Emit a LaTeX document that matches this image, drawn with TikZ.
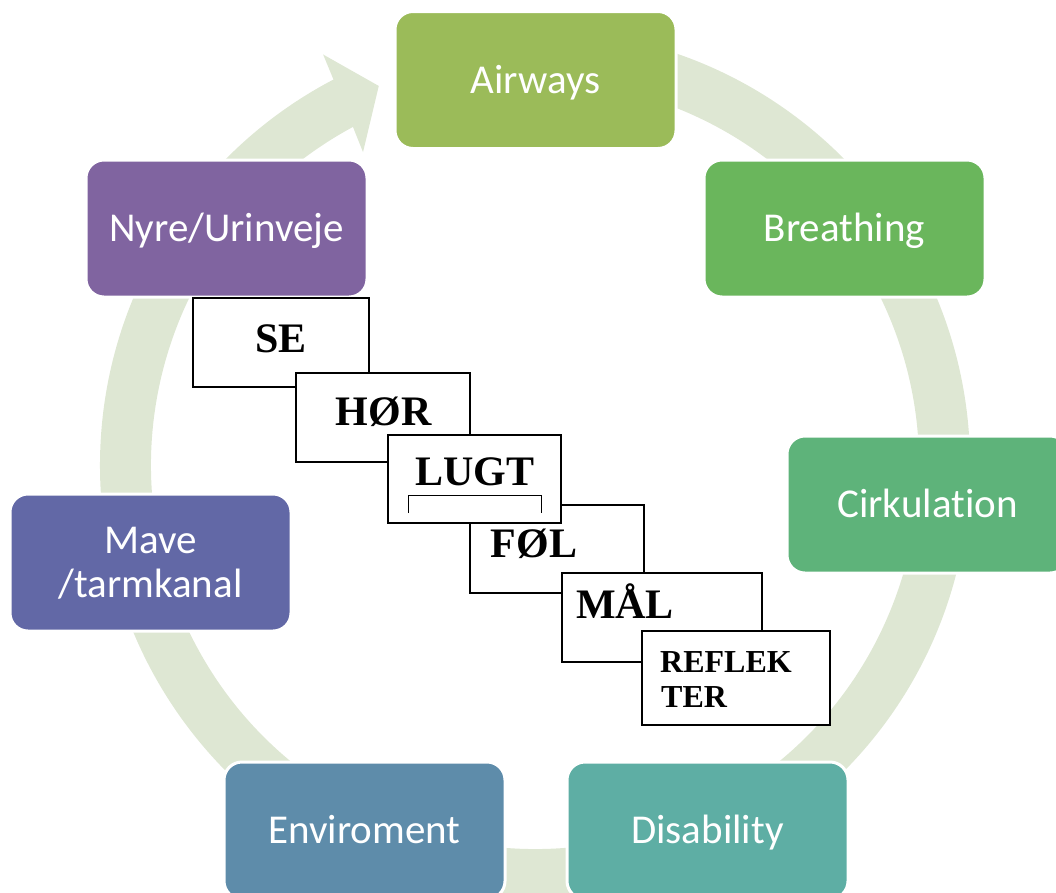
\documentclass[tikz,border=0pt]{standalone}
\usepackage{fontspec}
\setmainfont[Ligatures=NoCommon]{Carlito}
\newfontfamily\tnr{Liberation Serif}
\usetikzlibrary{calc}
\definecolor{ringc}{RGB}{222,231,211}
\definecolor{airc}{RGB}{155,187,89}
\definecolor{brtc}{RGB}{106,182,92}
\definecolor{circ}{RGB}{94,179,122}
\definecolor{disc}{RGB}{94,174,164}
\definecolor{envc}{RGB}{94,140,170}
\definecolor{mavc}{RGB}{98,104,166}
\definecolor{nyrc}{RGB}{128,100,160}
\begin{document}
\begin{tikzpicture}[x=1pt,y=1pt,
  cbox/.style={draw=white,line width=3pt,rounded corners=18pt,minimum width=281pt,minimum height=137pt,text=white,font=\fontsize{41}{44}\selectfont,inner sep=0pt,text height=26pt,text depth=0pt},
  wbox/.style={draw=black,line width=1.3pt,fill=white,inner sep=0pt},
  wtxt/.style={font=\tnr\bfseries\fontsize{42}{42}\selectfont,anchor=base,inner sep=0pt},
  stxt/.style={font=\tnr\bfseries\fontsize{32}{35}\selectfont,anchor=base west,inner sep=0pt}]
\useasboundingbox (0,0) rectangle (1056,-892);
\clip (0,0) rectangle (1056,-892);
\coordinate (C) at (535,-465);
% circular arrow
\fill[ringc] ($(C)+(85:435)$) arc[start angle=85,end angle=-242.4,radius=435]
  -- ($(C)+(117.3:462)$) -- ($(C)+(112.4:410)$) -- ($(C)+(118.8:357)$)
  -- ($(C)+(118.3:384)$) arc[start angle=-241.7,end angle=85,radius=384] -- cycle;
% coloured boxes
\node[cbox,fill=airc] (air) at (535.5,-80) {Airways};
\node[cbox,fill=brtc] (brt) at (844.5,-228.5) {Breathing};
\node[cbox,fill=circ] (cir) at (927.5,-504.5) {Cirkulation};
\node[cbox,fill=disc] (dis) at (707.5,-830.5) {Disability};
\node[cbox,fill=envc] (env) at (364.5,-830.5) {Enviroment};
\node[cbox,fill=mavc,align=center,text height=70pt] (mav) at (150.5,-562.5) {Mave\\/tarmkanal};
\node[cbox,fill=nyrc] (nyr) at (226.5,-228.5) {Nyre/Urinveje};
% white boxes
\node[wbox,minimum width=176pt,minimum height=89pt] (bse) at (281,-342.5) {};
\node[wtxt] (tse) at (281,-352) {SE};
\node[wbox,minimum width=174pt,minimum height=89pt] (bhor) at (383,-417.5) {};
\node[wtxt] (thor) at (383.5,-425) {HØR};
\node[wbox,minimum width=174pt,minimum height=88pt] (bfol) at (557,-549) {};
\node[wtxt] (tfol) at (534,-557) {FØL};
\node[wbox,minimum width=173pt,minimum height=88pt] (blugt) at (474.5,-479) {};
\node[wtxt] (tlugt) at (475,-485) {LUGT};
\draw[line width=0.8pt] (408,-513) -- (408,-495) -- (541,-495) -- (541,-513);
\node[wbox,minimum width=200pt,minimum height=89pt] (bmal) at (662,-617.5) {};
\node[wtxt] (tmal) at (625,-618) {MÅL};
\node[wbox,minimum width=188pt,minimum height=94pt] (bref) at (736,-678) {};
\node[stxt] (tref) at (660,-672) {REFLEK};
\node[stxt] (tter) at (661,-707) {TER};
\end{tikzpicture}
\end{document}
